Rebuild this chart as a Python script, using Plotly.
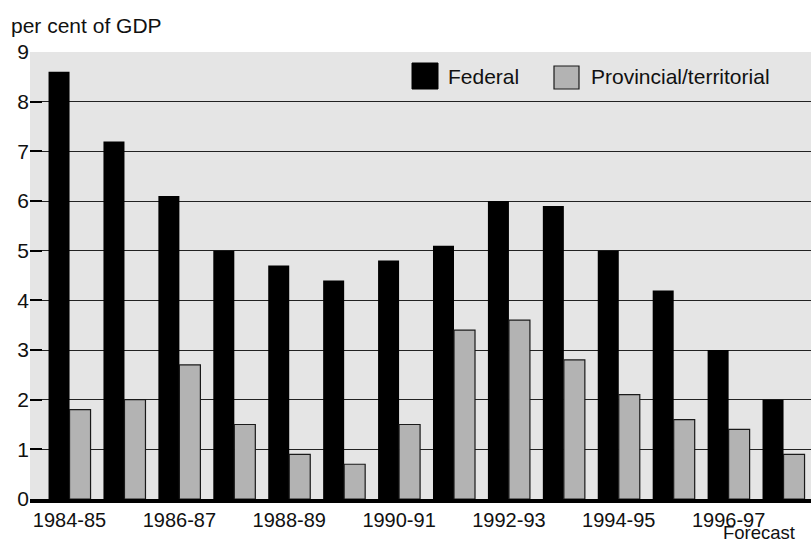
import plotly.graph_objects as go

years = ["1984-85", "1985-86", "1986-87", "1987-88", "1988-89", "1989-90", "1990-91",
         "1991-92", "1992-93", "1993-94", "1994-95", "1995-96", "1996-97", "1997-98"]
federal = [8.6, 7.2, 6.1, 5.0, 4.7, 4.4, 4.8, 5.1, 6.0, 5.9, 5.0, 4.2, 3.0, 2.0]
provincial = [1.8, 2.0, 2.7, 1.5, 0.9, 0.7, 1.5, 3.4, 3.6, 2.8, 2.1, 1.6, 1.4, 0.9]
tick_labels = years[::2]
y_ticks = list(range(0, 10))

FONT = "Liberation Sans, Arial, Helvetica, sans-serif"
BLACK = "#000000"
GREY = "#b3b3b3"
BG = "#e5e5e5"
TXT = "#111111"

fig = go.Figure()
fig.add_trace(go.Bar(x=years, y=federal, name="Federal",
                     marker=dict(color=BLACK, line=dict(color=BLACK, width=0))))
fig.add_trace(go.Bar(x=years, y=provincial, name="Provincial/territorial",
                     marker=dict(color=GREY, line=dict(color="#1a1a1a", width=1.2))))

fig.update_layout(
    width=811, height=543,
    margin=dict(l=30, r=0, t=52, b=44),
    paper_bgcolor="white",
    plot_bgcolor=BG,
    barmode="group",
    bargap=0.235,
    bargroupgap=0,
    showlegend=False,
    font=dict(family=FONT, size=20, color=TXT),
    xaxis=dict(
        type="category",
        categoryorder="array", categoryarray=years,
        range=[-0.72, 13.5],
        tickmode="array", tickvals=tick_labels, ticktext=tick_labels,
        showgrid=False, ticks="",
        showline=True, linecolor=BLACK, linewidth=4,
        tickfont=dict(size=20, family=FONT, color=TXT),
        fixedrange=True,
    ),
    yaxis=dict(
        range=[0, 9],
        tickmode="array", tickvals=y_ticks,
        showgrid=True, gridcolor="#222222", gridwidth=1.3,
        ticks="inside", ticklen=12, tickwidth=2, tickcolor=BLACK,
        zeroline=False, showline=False,
        tickfont=dict(size=21, family=FONT, color=TXT),
        fixedrange=True,
    ),
)

# y-axis unit title
fig.add_annotation(text="per cent of GDP", xref="paper", yref="paper",
                   x=0, y=1, xanchor="left", yanchor="bottom",
                   xshift=-21, yshift=13, showarrow=False,
                   font=dict(size=21, family=FONT, color=TXT))

# Forecast note under the last tick label
fig.add_annotation(text="Forecast", xref="x", yref="paper",
                   x=years[12], y=0, xanchor="center", yanchor="top",
                   xshift=30, yshift=-22, showarrow=False, borderpad=0,
                   font=dict(size=18.5, family=FONT, color=TXT))

# Legend drawn with shapes (large square swatches like the original)
fig.add_shape(type="rect", xref="paper", yref="paper",
              x0=(412 - 30) / 781, x1=(438 - 30) / 781,
              y0=(499 - 89) / 447, y1=(499 - 63) / 447,
              fillcolor=BLACK, line=dict(color=BLACK, width=1))
fig.add_annotation(text="Federal", xref="paper", yref="paper",
                   x=(446 - 30) / 781, y=(499 - 77) / 447,
                   xanchor="left", yanchor="middle", showarrow=False,
                   font=dict(size=21, family=FONT, color=TXT))
fig.add_shape(type="rect", xref="paper", yref="paper",
              x0=(554 - 30) / 781, x1=(579 - 30) / 781,
              y0=(499 - 89) / 447, y1=(499 - 66) / 447,
              fillcolor=GREY, line=dict(color="#1a1a1a", width=1.2))
fig.add_annotation(text="Provincial/territorial", xref="paper", yref="paper",
                   x=(589 - 30) / 781, y=(499 - 77) / 447,
                   xanchor="left", yanchor="middle", showarrow=False,
                   font=dict(size=21, family=FONT, color=TXT))

fig.write_html("out.html",
               config={"displayModeBar": False},
               post_script="document.body.style.margin='0';"
                           "document.body.style.overflow='hidden';")
